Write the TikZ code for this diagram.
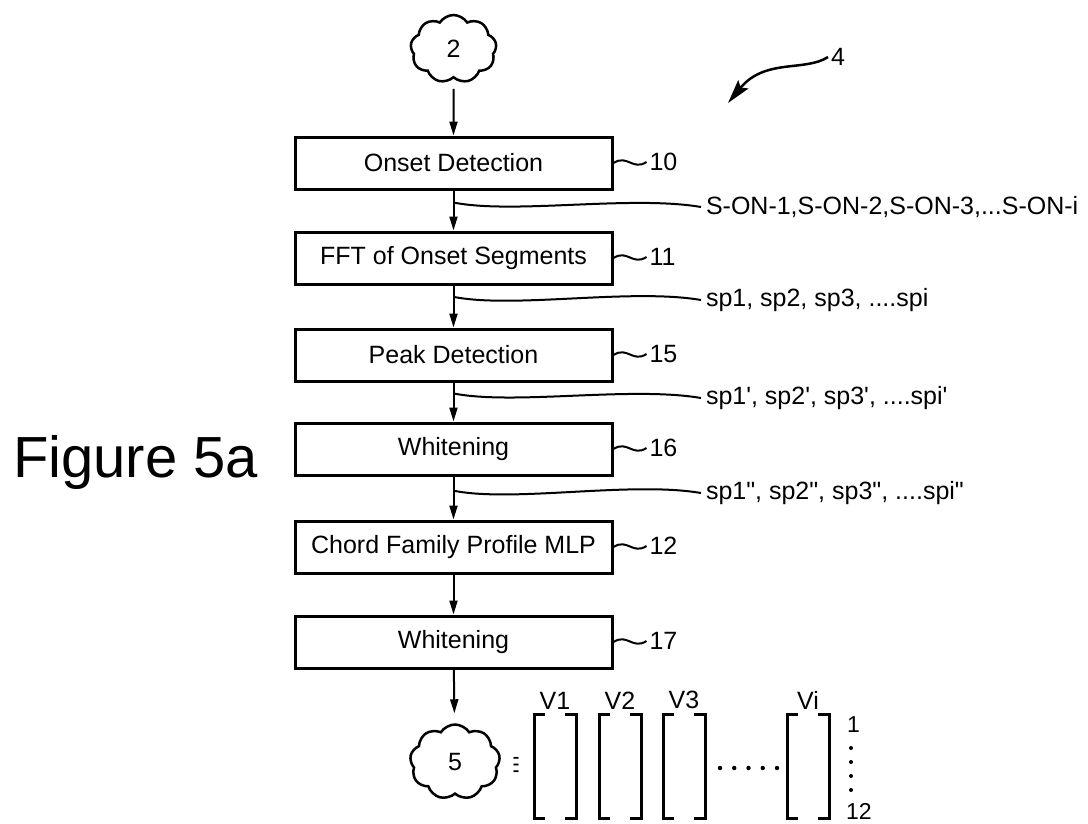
\documentclass[tikz,border=0pt]{standalone}
\usepackage{fontspec}
\setmainfont{Liberation Sans}
\usetikzlibrary{arrows.meta, positioning, shapes.symbols, calc}
\tikzset{
  every picture/.style={line width=2pt},
  box/.style={draw, line width=3pt, minimum width=317pt, minimum height=52pt, inner sep=0pt, font=\fontsize{25}{30}\selectfont},
  arrow/.style={-{Triangle[length=14pt, width=8pt]}, line width=2pt},
  blob/.style={cloud, draw, cloud puffs=9, cloud puff arc=115, aspect=1.25, minimum width=86pt, minimum height=68pt, inner sep=0pt, line width=2.5pt, font=\fontsize{25}{30}\selectfont},
  sig/.style={anchor=west, inner sep=4pt, font=\fontsize{25}{30}\selectfont},
  ref/.style={anchor=west, inner sep=2pt, font=\fontsize{25}{30}\selectfont},
  vec/.style={minimum width=40pt, minimum height=102pt, inner sep=0pt},
  bracket/.style={line width=3pt},
}

\begin{document}
\begin{tikzpicture}[x=1pt, y=-1pt]
  \useasboundingbox (0,0) rectangle (1088,823);
  % flow
  \node[blob] (in) at (453.5,49) {2};
  \node[box] (onset) at (453.5,163) {Onset Detection};
  \node[box] (fft) at (453.5,258) {FFT of Onset Segments};
  \node[box] (peak) at (453.5,355) {Peak Detection};
  \node[box] (white1) at (453.5,449) {Whitening};
  \node[box] (chord) at (453.5,547) {Chord Family Profile MLP};
  \node[box] (white2) at (453.5,642) {Whitening};
  \node[blob, minimum width=90pt, minimum height=75pt] (out) at (455,762) {5};
  \draw[arrow, shorten <=10pt] (in) -- (onset);
  \draw[arrow] (onset) -- coordinate[pos=0.3] (t1) (fft);
  \draw[arrow] (fft) -- coordinate[pos=0.27] (t2) (peak);
  \draw[arrow] (peak) -- coordinate[pos=0.28] (t3) (white1);
  \draw[arrow] (white1) -- coordinate[pos=0.33] (t4) (chord);
  \draw[arrow] (chord) -- (white2);
  \draw[arrow, shorten >=10pt] (white2) -- (out);
  % signals between the steps
  \node[sig] (s1) at (701,207) {S-ON-1,S-ON-2,S-ON-3,...S-ON-i};
  \node[sig] (s2) at (701,300) {sp1, sp2, sp3, ....spi};
  \node[sig] (s3) at (701,398) {sp1\textquotesingle, sp2\textquotesingle, sp3\textquotesingle, ....spi\textquotesingle};
  \node[sig] (s4) at (701,493) {sp1\textquotedbl, sp2\textquotedbl, sp3\textquotedbl, ....spi\textquotedbl};
  \foreach \t/\s in {t1/s1, t2/s2, t3/s3, t4/s4}
    \draw (\t) .. controls +(60,12) and +(-70,-12) .. (\s.west);
  % reference numerals
  \foreach \b/\n in {onset/10, fft/11, peak/15, white1/16, chord/12, white2/17} {
    \node[ref, right=33pt of \b, yshift=1pt] (r\n) {\n};
    \draw (\b.east) .. controls +(14,-9) and +(-14,9) .. (r\n.west);
  }
  \node[ref] (r4) at (828,57) {4};
  \coordinate (tip4) at (728,103);
  \draw[-{Stealth[length=24pt, width=13pt, inset=4pt]}, line width=2.5pt] (r4.west) .. controls (805,72) and (765,58) .. (tip4);
  % title
  \node[anchor=base west, inner sep=0pt, font=\fontsize{58}{60}\selectfont] (fig) at (12,477) {Figure 5a};
  % output vectors
  \node[inner sep=0pt] (eqv) at (516,765) {\resizebox{6pt}{15pt}{\boldmath$\equiv$}};
  \foreach \v/\x/\l in {v1/555/V1, v2/620/V2, v3/684/V3, vi/808/Vi} {
    \node[vec] (\v) at (\x,766) {};
    \draw[bracket] (\v.north west) ++(11,0) -| (\v.south west) -- ++(11,0);
    \draw[bracket] (\v.north east) ++(-11,0) -| (\v.south east) -- ++(-11,0);
    \node[above=4pt of \v, inner sep=0pt, font=\fontsize{25}{30}\selectfont] (lab\v) {\l};
  }
  \foreach \i in {0,...,4}
    \fill (720+\i*14.25,768) circle (2.2pt);
  \node[ref, font=\fontsize{23}{26}\selectfont] (one) at (844,725) {1};
  \node[ref, font=\fontsize{23}{26}\selectfont] (twelve) at (843,811) {12};
  \foreach \y in {748,762,776,790}
    \fill (851,\y) circle (2pt);
\end{tikzpicture}
\end{document}
